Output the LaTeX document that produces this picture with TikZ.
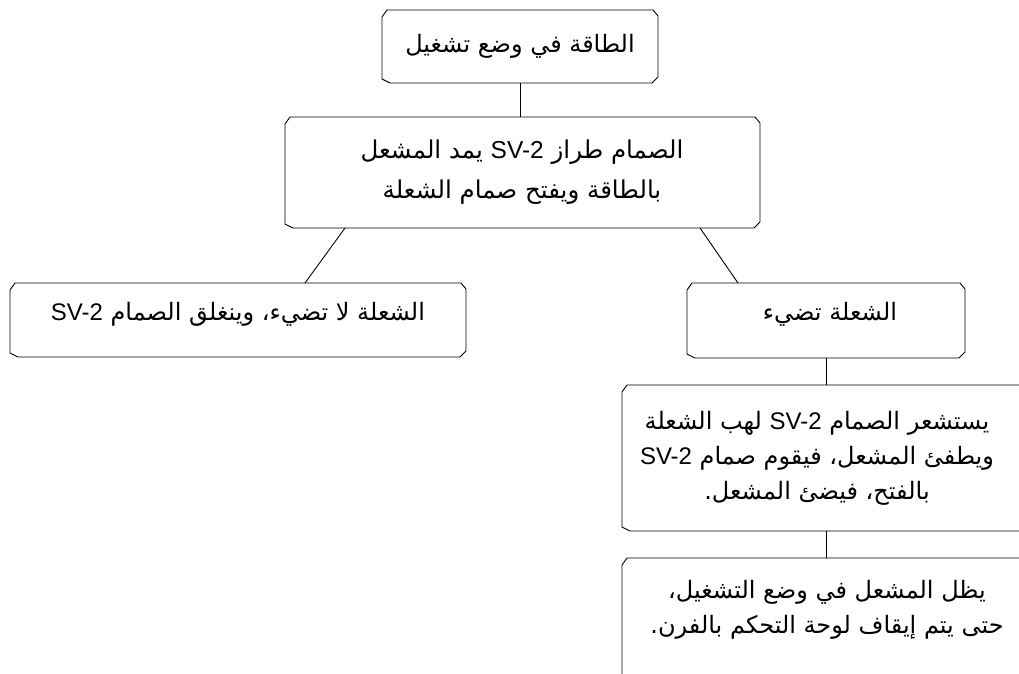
\documentclass[tikz,border=0pt]{standalone}
\usepackage{fontspec}
\setmainfont{Liberation Sans}
\newfontfamily\arabicfont[Script=Arabic]{DejaVu Sans}
\newfontfamily\latinfont{Liberation Sans}
\TeXXeTstate=1
\newcommand\svtwo{\beginL{\latinfont SV-2}\endL}
\newcommand\chbox[1]{\draw[line width=0.9pt]
  ([xshift=5pt]#1.north west) -- ([xshift=-5pt]#1.north east) -- ([yshift=-6pt]#1.north east)
  -- ([yshift=6pt]#1.south east) -- ([xshift=-6pt]#1.south east) -- ([xshift=8pt]#1.south west)
  -- ([yshift=4pt]#1.south west) -- ([yshift=-7pt]#1.north west) -- cycle;}
\tikzset{
  box/.style={rectangle, inner sep=0pt, outer sep=0pt},
  txt/.style={inner sep=0pt, align=center, font=\arabicfont\fontsize{24}{35}\selectfont},
  conn/.style={line width=0.9pt}
}
\begin{document}
\begin{tikzpicture}[x=1pt,y=-1pt]
\useasboundingbox (0,0) rectangle (1019,673);
\clip (0,0) rectangle (1019,673);
\fill[white] (0,0) rectangle (1019,673);
% boxes
\node[box, minimum width=276pt, minimum height=73pt] (b1) at (520,46.5) {};
\node[box, minimum width=475pt, minimum height=111pt] (b2) at (522.5,172.5) {};
\node[box, minimum width=456pt, minimum height=74pt] (b3) at (238,320) {};
\node[box, minimum width=278pt, minimum height=75pt] (b4) at (826,320.5) {};
\node[box, minimum width=418pt, minimum height=146pt] (b5) at (831,458) {};
\node[box, minimum width=418pt, minimum height=152pt] (b6) at (831,634) {};
\chbox{b1}\chbox{b2}\chbox{b3}\chbox{b4}\chbox{b5}\chbox{b6}
% texts
\node[txt] (t1) at (520,46)
  {\beginR الطاقة في وضع تشغيل\endR};
\node[txt, font=\arabicfont\fontsize{24.5}{40}\selectfont] (t2) at (522,172)
  {\beginR الصمام طراز \svtwo{} يمد المشعل\endR\\ \beginR بالطاقة ويفتح صمام الشعلة\endR};
\node[txt] (t3) at (238,314)
  {\beginR الشعلة لا تضيء، وينغلق الصمام \svtwo\endR};
\node[txt] (t4) at (830,314)
  {\beginR الشعلة تضيء\endR};
\node[txt] (t5) at (817,458)
  {\beginR يستشعر الصمام \svtwo{} لهب الشعلة\endR\\
   \beginR ويطفئ المشعل، فيقوم صمام \svtwo\endR\\
   \beginR بالفتح، فيضئ المشعل.\endR};
\node[txt] (t6) at (827,610)
  {\beginR يظل المشعل في وضع التشغيل،\endR\\
   \beginR حتى يتم إيقاف لوحة التحكم بالفرن.\endR};
% connectors
\draw[conn] (b1.south) -- (b1.south |- b2.north);
\draw[conn] ([xshift=60pt]b2.south west) -- ([xshift=295pt]b3.north west);
\draw[conn] ([xshift=-60pt]b2.south east) -- ([xshift=51pt]b4.north west);
\draw[conn] (b4.south) -- (b4.south |- b5.north);
\draw[conn] (b4.south |- b5.south) -- (b4.south |- b6.north);
\end{tikzpicture}
\end{document}
